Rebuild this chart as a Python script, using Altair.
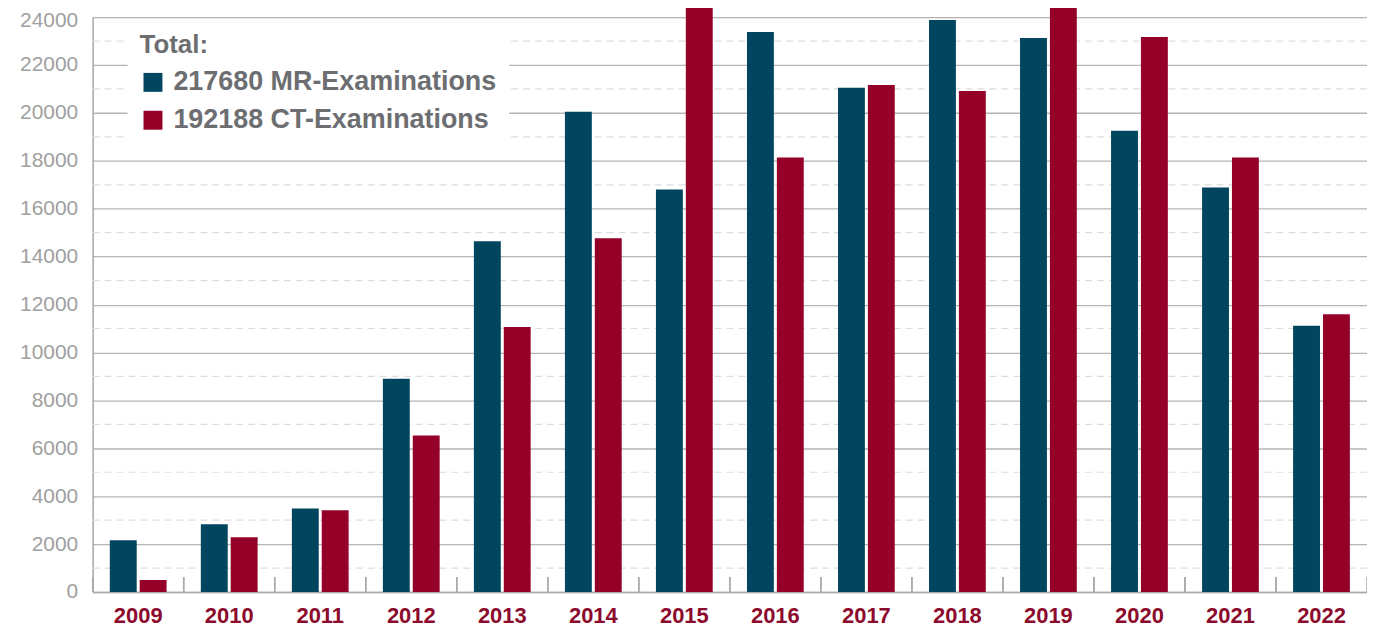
import altair as alt
import pandas as pd

years = [str(y) for y in range(2009, 2023)]
mr_values = [2160, 2830, 3490, 8900, 14640, 20050, 16800, 23380, 21050, 23880, 23130, 19260, 16890, 11110]
ct_values = [500, 2290, 3410, 6530, 11060, 14770, 24500, 18140, 21170, 20920, 24500, 23170, 18140, 11600]
series_labels = ["217680 MR-Examinations", "192188 CT-Examinations"]
series_colors = ["#01455f", "#950029"]
legend_title = "Total:"
solid_ticks = list(range(0, 24001, 2000))
dashed_ticks = list(range(1000, 24000, 2000))

W, H = 1279, 577
FONT = "Liberation Sans"

rows = []
for i, y in enumerate(years):
    rows.append({"year": y, "series": series_labels[0], "value": mr_values[i]})
    rows.append({"year": y, "series": series_labels[1], "value": ct_values[i]})
df = pd.DataFrame(rows)
years_df = pd.DataFrame({"year": years})
dash_df = pd.DataFrame({"v": dashed_ticks})

yscale = alt.Scale(domain=[0, 24000], nice=False, zero=True)
xscale = alt.Scale(domain=years, paddingInner=0, paddingOuter=0)

yaxis = alt.Axis(title=None, values=solid_ticks, ticks=False, format="d", labelFont=FONT,
                 labelFontSize=21, labelColor="#a0a0a0", labelPadding=15,
                 labelOffset={"condition": {"test": "datum.value >= 24000", "value": 3}, "value": 0},
                 grid=True, gridColor="#b5b5b5", gridWidth=1.3,
                 domain=True, domainColor="#aaaaaa", domainWidth=1.5)

dashed = alt.Chart(dash_df).mark_rule(color="#dddddd", strokeWidth=1.2, strokeDash=[7, 5]).encode(
    y=alt.Y("v:Q", scale=yscale, axis=yaxis)
)

bars = alt.Chart(df).mark_bar(clip=False).encode(
    x=alt.X("year:N", scale=xscale, sort=years,
            axis=alt.Axis(title=None, ticks=False, labelAngle=0, labelFont=FONT,
                          labelFontSize=22, labelFontWeight="bold", labelColor="#8c0a2c",
                          labelPadding=14, domain=True, domainColor="#aaaaaa", domainWidth=1.5)),
    xOffset=alt.XOffset("series:N", sort=series_labels,
                        scale=alt.Scale(paddingInner=0.1, paddingOuter=0.573)),
    y=alt.Y("value:Q", scale=yscale, axis=yaxis),
    color=alt.Color("series:N", sort=series_labels,
                    scale=alt.Scale(domain=series_labels, range=series_colors),
                    legend=alt.Legend(title=legend_title, orient="none", legendX=35, legendY=3,
                                      fillColor="white", padding=12,
                                      titleFont=FONT, titleFontSize=26, titleFontWeight="bold",
                                      titleColor="#6d6e71", titlePadding=11,
                                      labelFont=FONT, labelFontSize=27, labelFontWeight="bold",
                                      labelColor="#6d6e71", labelLimit=500, labelOffset=7,
                                      symbolType="square", symbolSize=361, symbolStrokeWidth=0,
                                      symbolOpacity=1, rowPadding=10)),
)

ticks_start = alt.Chart(years_df).mark_rule(color="#aaaaaa", strokeWidth=1.5).encode(
    x=alt.X("year:N", scale=xscale, sort=years, bandPosition=0),
    y=alt.datum(0, scale=yscale),
    y2=alt.value(H - 15),
)
ticks_end = alt.Chart(years_df).mark_rule(color="#aaaaaa", strokeWidth=1.5).encode(
    x=alt.X("year:N", scale=xscale, sort=years, bandPosition=1),
    y=alt.datum(0, scale=yscale),
    y2=alt.value(H - 15),
)

chart = alt.layer(dashed, bars, ticks_start, ticks_end).properties(
    width=W, height=H,
    autosize=alt.AutoSizeParams(type="none"),
    padding={"left": 85, "top": 8, "right": 0, "bottom": 35},
).configure_view(stroke=None).configure(background="white")

chart.save("out.html", embed_options={"renderer": "svg", "actions": False})
